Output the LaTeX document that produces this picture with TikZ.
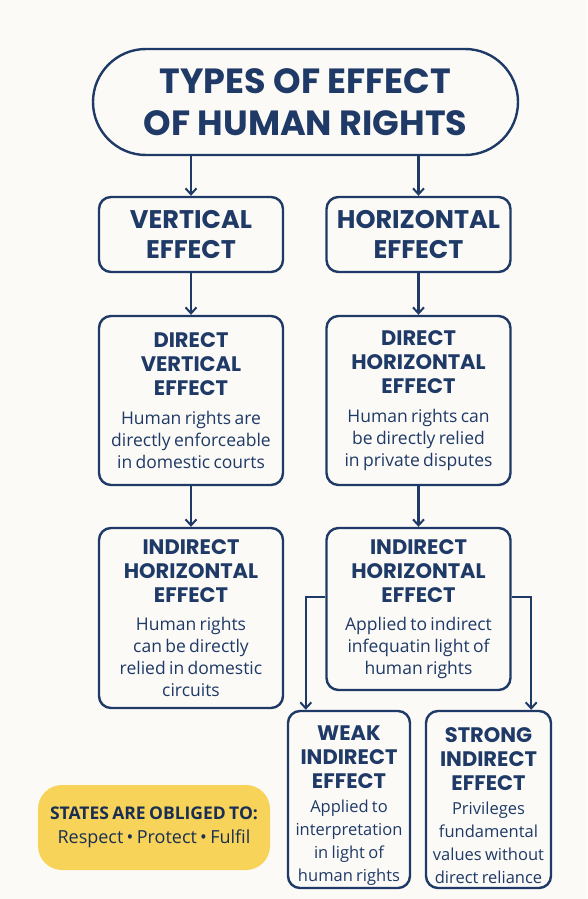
\documentclass[tikz,border=0pt]{standalone}
\usepackage{fontspec}
\setmainfont{Open Sans}
\newfontfamily\headfont{Poppins}
\usetikzlibrary{arrows.meta,positioning}
\definecolor{navy}{HTML}{1F3A66}
\definecolor{paper}{HTML}{FBFAF7}
\definecolor{sun}{HTML}{F7D35A}
\newcommand\headtxt{\headfont\bfseries\fontsize{21}{24}\selectfont}
\newcommand\bodytxt{\normalfont\fontsize{17.5}{22}\selectfont}
\newcommand\smalltxt{\normalfont\fontsize{16.5}{23}\selectfont}

\begin{document}
\begin{tikzpicture}[x=1pt,y=-1pt,>={Straight Barb[length=6pt,width=11pt,line width=2pt]},
  box/.style={draw=navy,line width=2.4pt,rounded corners=12pt,text=navy,align=center,
    inner sep=0pt,minimum width=184pt},
  link/.style={->,draw=navy,line width=2.4pt}]
  \fill[paper] (0,0) rectangle (587,899);
  \node[box,rounded corners=53pt,minimum width=425pt,minimum height=106pt,
    font=\headfont\bfseries\fontsize{35}{42}\selectfont] (title) at (305.5,102)
    {TYPES OF EFFECT\\OF HUMAN RIGHTS};
  \node[box,minimum height=75pt,text width=184pt] (vert) at (191,234.5)
    {\headfont\bfseries\fontsize{25.5}{30}\selectfont VERTICAL\\EFFECT\par};
  \node[box,minimum height=75pt,text width=184pt] (horz) at (418.5,234.5)
    {\headfont\bfseries\fontsize{25.5}{30}\selectfont HORIZONTAL\\EFFECT\par};
  \node[box,minimum height=169pt,text width=184pt] (dv) at (191,400.5)
    {\headtxt DIRECT\\VERTICAL\\EFFECT\par\vspace{7pt}\bodytxt Human rights are\\directly enforceable\\in domestic courts\par};
  \node[box,minimum height=169pt,text width=184pt] (dh) at (418.5,400.5)
    {\headtxt DIRECT\\HORIZONTAL\\EFFECT\par\vspace{7pt}\bodytxt Human rights can\\be directly relied\\in private disputes\par};
  \node[box,minimum height=180pt,text width=184pt] (ihl) at (191,618)
    {\headtxt INDIRECT\\HORIZONTAL\\EFFECT\par\vspace{6pt}\bodytxt Human rights\\can be directly\\relied in domestic\\circuits\par};
  \node[box,minimum height=162pt,text width=184pt] (ihr) at (418.5,609)
    {\headtxt INDIRECT\\HORIZONTAL\\EFFECT\par\vspace{6pt}\bodytxt Applied to indirect\\infequatin light of\\human rights\par};
  \node[box,minimum width=122pt,minimum height=177pt,text width=122pt] (weak) at (349,799.5)
    {\headtxt\rule{0pt}{27pt}WEAK\\INDIRECT\\EFFECT\par\vspace{1pt}\smalltxt Applied to\\interpretation\\in light of\\human rights\par};
  \node[box,minimum width=125pt,minimum height=177pt,text width=125pt] (strong) at (488.5,799.5)
    {\headtxt\rule{0pt}{27pt}STRONG\\INDIRECT\\EFFECT\par\vspace{1pt}\smalltxt Privileges\\fundamental\\values without\\direct reliance\par};
  \node[fill=sun,rounded corners=24pt,minimum width=232pt,minimum height=85pt,inner sep=0pt,
    text width=232pt,align=center,text=navy!80!black] (duty) at (154,827.5)
    {\bfseries\fontsize{17.5}{23.5}\selectfont STATES ARE OBLIGED TO:\par
     \normalfont\fontsize{18}{23.5}\selectfont Respect • Protect • Fulfil\par};
  % connectors
  \draw[link] (title.south -| vert.north) -- (vert.north);
  \draw[link] (title.south -| horz.north) -- (horz.north);
  \draw[link] (vert) -- (dv);
  \draw[link] (horz) -- (dh);
  \draw[link] (dv) -- (ihl);
  \draw[link] (dh) -- (ihr);
  \draw[link] ([yshift=12pt]ihr.west) -| ([xshift=19pt]weak.north west);
  \draw[link] ([yshift=12pt]ihr.east) -| ([xshift=-21pt]strong.north east);
\end{tikzpicture}
\end{document}
